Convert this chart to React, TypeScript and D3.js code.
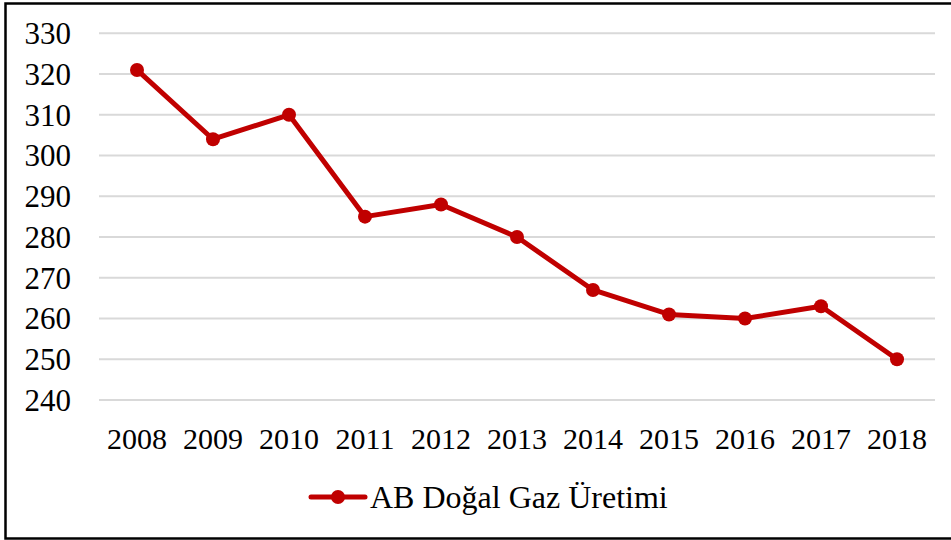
import React from "react";
import * as d3 from "d3";

const years = ["2008", "2009", "2010", "2011", "2012", "2013", "2014", "2015", "2016", "2017", "2018"];
const production = [321, 304, 310, 285, 288, 280, 267, 261, 260, 263, 250];
const yTicks = [240, 250, 260, 270, 280, 290, 300, 310, 320, 330];
const seriesName = "AB Doğal Gaz Üretimi";

const W = 951;
const H = 540;
const RED = "#C00000";
const FONT = "'Liberation Serif', 'Times New Roman', serif";

export default function App() {
  const x = d3.scaleBand<string>().domain(years).range([99, 935]);
  const y = d3.scaleLinear().domain([240, 330]).range([400, 33.3]);
  const line = d3
    .line<number>()
    .x((_, i) => (x(years[i]) as number) + x.bandwidth() / 2)
    .y((d) => y(d));

  return (
    <svg width={W} height={H} style={{ position: "absolute", left: 0, top: 0, background: "#fff" }}>
      <rect x={5.5} y={3.5} width={W + 10} height={535} fill="#fff" stroke="#000" strokeWidth={2.5} />
      {yTicks.map((t) => (
        <g key={t}>
          <line x1={99} x2={935} y1={y(t)} y2={y(t)} stroke="#d9d9d9" strokeWidth={2} />
          <text x={71} y={y(t)} dy="0.35em" textAnchor="end" fontFamily={FONT} fontSize={31} fill="#000">
            {t}
          </text>
        </g>
      ))}
      {years.map((yr) => (
        <text
          key={yr}
          x={(x(yr) as number) + x.bandwidth() / 2}
          y={438}
          dy="0.35em"
          textAnchor="middle"
          fontFamily={FONT}
          fontSize={30}
          fill="#000"
        >
          {yr}
        </text>
      ))}
      <path d={line(production) || ""} fill="none" stroke={RED} strokeWidth={5} strokeLinejoin="round" />
      {production.map((v, i) => (
        <circle key={i} cx={(x(years[i]) as number) + x.bandwidth() / 2} cy={y(v)} r={7} fill={RED} />
      ))}
      <g>
        <line x1={311} x2={365} y1={497} y2={497} stroke={RED} strokeWidth={5} strokeLinecap="round" />
        <circle cx={338} cy={497} r={7} fill={RED} />
        <text x={370} y={497} dy="0.35em" fontFamily={FONT} fontSize={32} fill="#000">
          {seriesName}
        </text>
      </g>
    </svg>
  );
}
